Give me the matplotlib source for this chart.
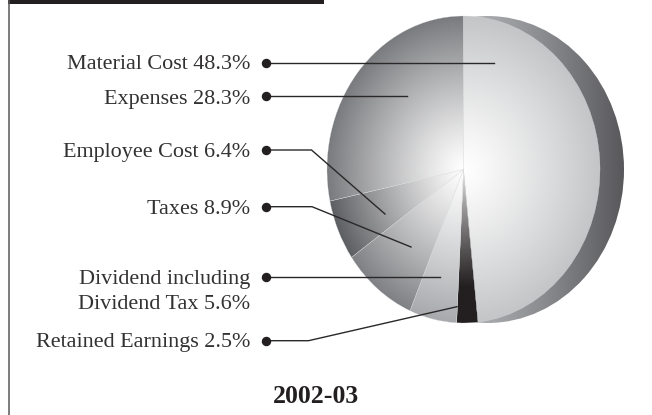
import numpy as np
import matplotlib
matplotlib.use('Agg')
from matplotlib import pyplot as plt
from matplotlib.colors import LinearSegmentedColormap
from matplotlib.patches import Ellipse

labels = ['Material Cost 48.3%', 'Retained Earnings 2.5%', 'Dividend including\nDividend Tax 5.6%',
          'Taxes 8.9%', 'Employee Cost 6.4%', 'Expenses 28.3%']
shares = [48.3, 2.5, 5.6, 8.9, 6.4, 28.3]
edge_greys = ['#c4c5c7', '#231f20', '#a7a9ac', '#808184', '#5e5f62', '#7a7b7e']
title = '2002-03'

W, H = 652, 415
cx, cy, rx, ry = 463.5, 169.5, 136.5, 153.5
depth = 24

fig = plt.figure(figsize=(W / 100, H / 100), dpi=100)
bg = fig.add_axes([0, 0, 1, 1])
bg.set_xlim(0, W)
bg.set_ylim(H, 0)
bg.axis('off')

# frame: heavy bar on top, thin rule down the left
bg.fill_between([8, 324], 0, 4, color='#231f20', lw=0)
bg.plot([8.7, 8.7], [0, H], color='#58595b', lw=1.1)

# rim behind the pie, dark towards the right
rim_cmap = LinearSegmentedColormap.from_list('rim', ['#b5b6b8', '#8a8b8e', '#58585b'])
rim = bg.imshow(np.linspace(0, 1, 256)[None, :], cmap=rim_cmap, aspect='auto',
                extent=[cx, cx + rx + depth, cy + ry, cy - ry], zorder=1)
rim_clip = Ellipse((cx + depth, cy), 2 * rx, 2 * ry, transform=bg.transData)
rim.set_clip_path(rim_clip)
bg.set_xlim(0, W)
bg.set_ylim(H, 0)

# pie axes cover the bounding box of the front face
ax = fig.add_axes([(cx - rx) / W, 1 - (cy + ry) / H, 2 * rx / W, 2 * ry / H], zorder=2)
ax.patch.set_alpha(0)
wedges, _ = ax.pie(shares, startangle=90, counterclock=False, radius=1)
ax.set_aspect('auto')

# radial shading per slice, white in the middle
gx, gy = np.meshgrid(np.linspace(-1, 1, 500), np.linspace(-1, 1, 500))
radius = np.hypot(gx, gy)
for wedge, grey in zip(wedges, edge_greys):
    wedge.set_facecolor('none')
    wedge.set_edgecolor('#d8d9da')
    wedge.set_linewidth(0.2)
    cmap = LinearSegmentedColormap.from_list('slice', ['#ffffff', grey])
    if grey == '#231f20':
        shade = np.clip(radius * 1.3, 0, 1) ** 0.7
    else:
        shade = np.clip(radius, 0, 1) ** 1.15
    im = ax.imshow(shade, cmap=cmap, vmin=0, vmax=1, extent=[-1, 1, -1, 1],
                   origin='lower', aspect='auto', zorder=0)
    im.set_clip_path(wedge)
ax.set_xlim(-1, 1)
ax.set_ylim(-1, 1)
ax.axis('off')

# leaders drawn on top of everything
top = fig.add_axes([0, 0, 1, 1], zorder=3)
top.set_xlim(0, W)
top.set_ylim(H, 0)
top.axis('off')
ink = '#2b2829'
leaders = {
    'Material Cost 48.3%': ([267, 494], [63.5, 63.5], 69.3),
    'Expenses 28.3%': ([267, 407], [96, 96], 104),
    'Employee Cost 6.4%': ([267, 311.5, 385], [150, 150, 214], 156.7),
    'Taxes 8.9%': ([267, 312, 411], [206.7, 206.7, 247], 213.5),
    'Dividend including\nDividend Tax 5.6%': ([267, 440], [276.7, 276.7], 284),
    'Retained Earnings 2.5%': ([267, 308.5, 457], [340.7, 340.7, 306.7], 347.3),
}
for name in labels:
    xs, ys, baseline = leaders[name]
    top.plot(xs, ys, color=ink, lw=1.0, solid_joinstyle='miter')
    top.plot(xs[0] - 0.8, ys[0], 'o', color='#231f20', ms=6.8, mew=0)
    for i, line in enumerate(name.split('\n')):
        top.text(250, baseline + 25 * i, line, ha='right', va='baseline',
                 family='Liberation Serif', fontsize=15.9, color='#333132')

top.text(315.5, 403, title, ha='center', va='baseline', family='Liberation Serif', fontweight='bold',
         fontsize=18.5, color='#231f20')

fig.savefig('out.png', dpi=100)
